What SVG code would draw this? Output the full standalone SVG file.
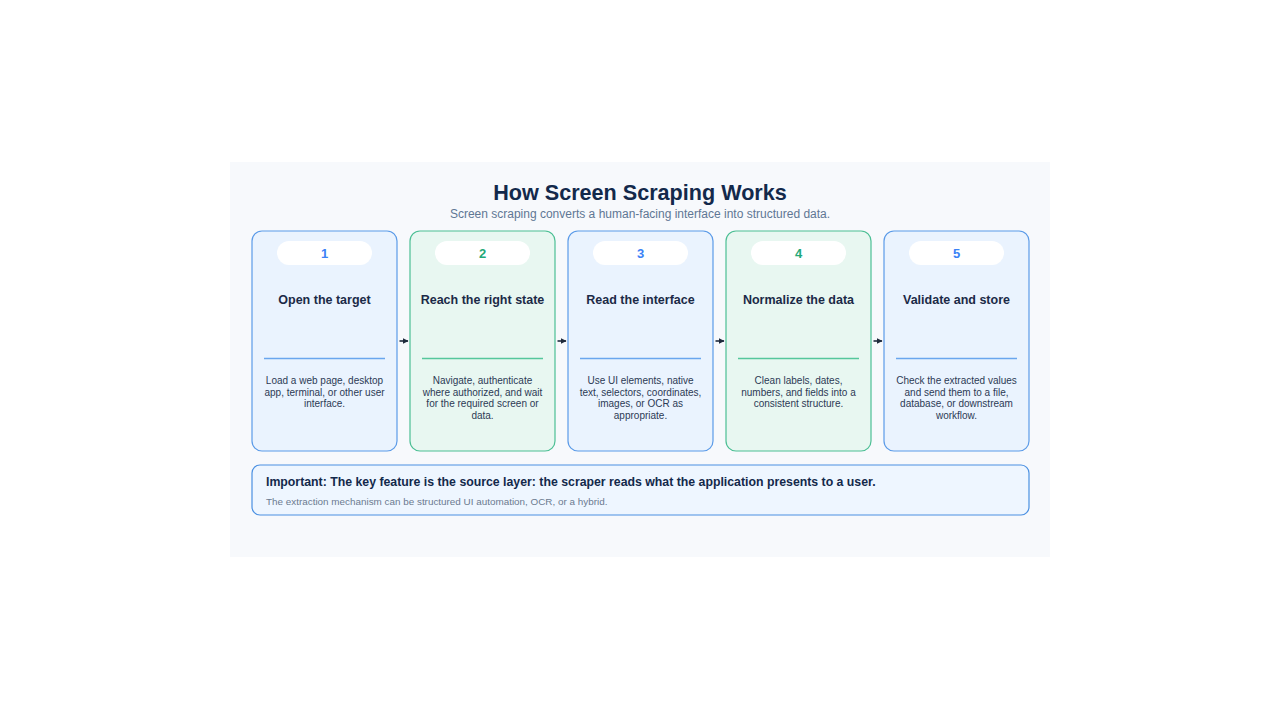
<svg xmlns="http://www.w3.org/2000/svg" width="1280" height="720" viewBox="0 0 1280 720">
<style>
text{font-family:"Liberation Sans",Arial,sans-serif}
.title{font-size:21.6px;font-weight:bold;fill:#13294b}
.sub{font-size:12px;fill:#5f7794}
.card-b{fill:#eaf3fe;stroke:#5b9be8;stroke-width:1.2}
.card-g{fill:#e8f7f1;stroke:#4cbf94;stroke-width:1.2}
.pill{fill:#ffffff}
.num-b{font-size:13px;font-weight:bold;fill:#3b82f6}
.num-g{font-size:13px;font-weight:bold;fill:#23a878}
.ct{font-size:12.5px;font-weight:bold;fill:#1b2a47}
.div-b{stroke:#6aa6ee;stroke-width:1.5}
.div-g{stroke:#55c79c;stroke-width:1.5}
.desc{font-size:10px;fill:#2c3a55}
.conn{stroke:#1e293b;stroke-width:1.6;fill:none}
.note{fill:#eef6ff;stroke:#4a90e2;stroke-width:1.2}
.nb{font-size:12.3px;font-weight:bold;fill:#13294b}
.ns{font-size:9.9px;fill:#6b7a90}
</style>
<defs>
<marker id="ah" viewBox="0 0 10 10" refX="9" refY="5" markerWidth="3.6" markerHeight="3.6" orient="auto">
<path d="M0,0 L10,5 L0,10 z" fill="#1e293b"/>
</marker>
</defs>
<rect width="1280" height="720" fill="#ffffff"/>
<rect x="230" y="162" width="820" height="395" fill="#f7f9fc"/>
<g id="header">
<text class="title" x="640" y="200" text-anchor="middle">How Screen Scraping Works</text>
<text class="sub" x="640" y="218" text-anchor="middle">Screen scraping converts a human-facing interface into structured data.</text>
</g>
<g id="connectors">
<line class="conn" x1="399.5" y1="341" x2="408" y2="341" marker-end="url(#ah)"/>
<line class="conn" x1="557.5" y1="341" x2="566" y2="341" marker-end="url(#ah)"/>
<line class="conn" x1="715.5" y1="341" x2="724" y2="341" marker-end="url(#ah)"/>
<line class="conn" x1="873.5" y1="341" x2="882" y2="341" marker-end="url(#ah)"/>
</g>
<g id="step1">
<rect class="card-b" x="252" y="231" width="145" height="220" rx="10"/>
<rect class="pill" x="277" y="241" width="95" height="24" rx="12"/>
<text class="num-b" x="324.5" y="258" text-anchor="middle">1</text>
<text class="ct" x="324.5" y="304" text-anchor="middle">Open the target</text>
<line class="div-b" x1="264" y1="358.5" x2="385" y2="358.5"/>
<text class="desc" text-anchor="middle"><tspan x="324.5" y="384">Load a web page, desktop</tspan><tspan x="324.5" y="395.5">app, terminal, or other user</tspan><tspan x="324.5" y="407">interface.</tspan></text>
</g>
<g id="step2">
<rect class="card-g" x="410" y="231" width="145" height="220" rx="10"/>
<rect class="pill" x="435" y="241" width="95" height="24" rx="12"/>
<text class="num-g" x="482.5" y="258" text-anchor="middle">2</text>
<text class="ct" x="482.5" y="304" text-anchor="middle">Reach the right state</text>
<line class="div-g" x1="422" y1="358.5" x2="543" y2="358.5"/>
<text class="desc" text-anchor="middle"><tspan x="482.5" y="384">Navigate, authenticate</tspan><tspan x="482.5" y="395.5">where authorized, and wait</tspan><tspan x="482.5" y="407">for the required screen or</tspan><tspan x="482.5" y="418.5">data.</tspan></text>
</g>
<g id="step3">
<rect class="card-b" x="568" y="231" width="145" height="220" rx="10"/>
<rect class="pill" x="593" y="241" width="95" height="24" rx="12"/>
<text class="num-b" x="640.5" y="258" text-anchor="middle">3</text>
<text class="ct" x="640.5" y="304" text-anchor="middle">Read the interface</text>
<line class="div-b" x1="580" y1="358.5" x2="701" y2="358.5"/>
<text class="desc" text-anchor="middle"><tspan x="640.5" y="384">Use UI elements, native</tspan><tspan x="640.5" y="395.5">text, selectors, coordinates,</tspan><tspan x="640.5" y="407">images, or OCR as</tspan><tspan x="640.5" y="418.5">appropriate.</tspan></text>
</g>
<g id="step4">
<rect class="card-g" x="726" y="231" width="145" height="220" rx="10"/>
<rect class="pill" x="751" y="241" width="95" height="24" rx="12"/>
<text class="num-g" x="798.5" y="258" text-anchor="middle">4</text>
<text class="ct" x="798.5" y="304" text-anchor="middle">Normalize the data</text>
<line class="div-g" x1="738" y1="358.5" x2="859" y2="358.5"/>
<text class="desc" text-anchor="middle"><tspan x="798.5" y="384">Clean labels, dates,</tspan><tspan x="798.5" y="395.5">numbers, and fields into a</tspan><tspan x="798.5" y="407">consistent structure.</tspan></text>
</g>
<g id="step5">
<rect class="card-b" x="884" y="231" width="145" height="220" rx="10"/>
<rect class="pill" x="909" y="241" width="95" height="24" rx="12"/>
<text class="num-b" x="956.5" y="258" text-anchor="middle">5</text>
<text class="ct" x="956.5" y="304" text-anchor="middle">Validate and store</text>
<line class="div-b" x1="896" y1="358.5" x2="1017" y2="358.5"/>
<text class="desc" text-anchor="middle"><tspan x="956.5" y="384">Check the extracted values</tspan><tspan x="956.5" y="395.5">and send them to a file,</tspan><tspan x="956.5" y="407">database, or downstream</tspan><tspan x="956.5" y="418.5">workflow.</tspan></text>
</g>
<g id="note">
<rect class="note" x="252" y="465" width="777" height="50" rx="8"/>
<text class="nb" x="266" y="486">Important: The key feature is the source layer: the scraper reads what the application presents to a user.</text>
<text class="ns" x="266" y="505">The extraction mechanism can be structured UI automation, OCR, or a hybrid.</text>
</g>
</svg>
